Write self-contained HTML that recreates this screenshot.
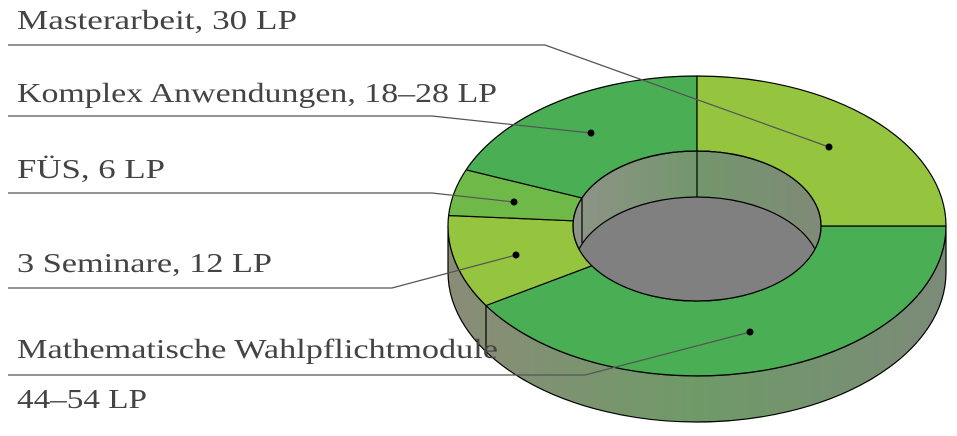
<!DOCTYPE html>
<html><head><meta charset="utf-8"><style>html,body{margin:0;padding:0;background:#fff;}svg{display:block}</style></head>
<body>
<svg width="957" height="436" viewBox="0 0 957 436" xmlns="http://www.w3.org/2000/svg">
<defs>
<linearGradient id="side" x1="448" y1="0" x2="946" y2="0" gradientUnits="userSpaceOnUse">
<stop offset="0" stop-color="#8a8c78"/><stop offset="0.5" stop-color="#6f9a68"/><stop offset="1" stop-color="#7c8a78"/>
</linearGradient>
<linearGradient id="wall" x1="573" y1="0" x2="821" y2="0" gradientUnits="userSpaceOnUse">
<stop offset="0" stop-color="#8e9488"/><stop offset="0.5" stop-color="#73966c"/><stop offset="1" stop-color="#808a78"/>
</linearGradient>
<clipPath id="hole"><ellipse cx="697" cy="226" rx="124" ry="75"/></clipPath>
</defs>
<g stroke="#000" stroke-width="1.2" stroke-linejoin="round">
<path d="M448,226 A249,150 0 0 0 946,226 L946,272 A249,150 0 0 1 448,272 Z" fill="url(#side)"/>
<line x1="486" y1="305.5" x2="486" y2="351"/>
<!-- Math 0-148 -->
<path d="M946,226 A249,150 0 0 1 486,305.5 L592,265.7 A124,75 0 0 0 821,226 Z" fill="#4aae55"/>
<!-- Seminare 148-184 -->
<path d="M486,305.5 A249,150 0 0 1 448.6,215.5 L573.3,220.8 A124,75 0 0 0 592,265.7 Z" fill="#95c43f"/>
<!-- FÜS 184-202 -->
<path d="M448.6,215.5 A249,150 0 0 1 466.1,169.8 L582,197.9 A124,75 0 0 0 573.3,220.8 Z" fill="#6fb948"/>
<!-- Komplex 202-270 -->
<path d="M466.1,169.8 A249,150 0 0 1 697,76 L697,151 A124,75 0 0 0 582,197.9 Z" fill="#4aae55"/>
<!-- Master 270-360 -->
<path d="M697,76 A249,150 0 0 1 946,226 L821,226 A124,75 0 0 0 697,151 Z" fill="#95c43f"/>
<ellipse cx="697" cy="226" rx="124" ry="75" fill="url(#wall)"/>
<ellipse cx="697" cy="272" rx="124" ry="75" fill="#808080" clip-path="url(#hole)"/>
<ellipse cx="697" cy="226" rx="124" ry="75" fill="none"/>
<line x1="697" y1="151" x2="697" y2="197"/>
<line x1="582" y1="197.9" x2="582" y2="243"/>
</g>
<g stroke="#555" stroke-width="1.2" fill="none">
<polyline points="8,45 545,45 829,147"/>
<polyline points="8,116 432,116 591,133"/>
<polyline points="8,193 432,193 514,202"/>
<polyline points="8,288 392,288 516,255"/>
<polyline points="8,375 585,375 750,332"/>
</g>
<g fill="#000">
<circle cx="829" cy="147" r="3.5"/><circle cx="591" cy="133" r="3.5"/><circle cx="514" cy="202" r="3.5"/><circle cx="516" cy="255" r="3.5"/><circle cx="750" cy="332" r="3.5"/>
</g>
<g font-family="'Liberation Serif', serif" font-size="27" fill="#444">
<text x="17" y="29" textLength="280" lengthAdjust="spacingAndGlyphs">Masterarbeit, 30 LP</text>
<text x="17" y="102" textLength="480" lengthAdjust="spacingAndGlyphs">Komplex Anwendungen, 18–28 LP</text>
<text x="17" y="178" textLength="148" lengthAdjust="spacingAndGlyphs">FÜS, 6 LP</text>
<text x="17" y="272" textLength="255" lengthAdjust="spacingAndGlyphs">3 Seminare, 12 LP</text>
<text x="17" y="358" textLength="481" lengthAdjust="spacingAndGlyphs">Mathematische Wahlpflichtmodule</text>
<text x="17" y="408" textLength="130" lengthAdjust="spacingAndGlyphs">44–54 LP</text>
</g>
</svg>
</body></html>
